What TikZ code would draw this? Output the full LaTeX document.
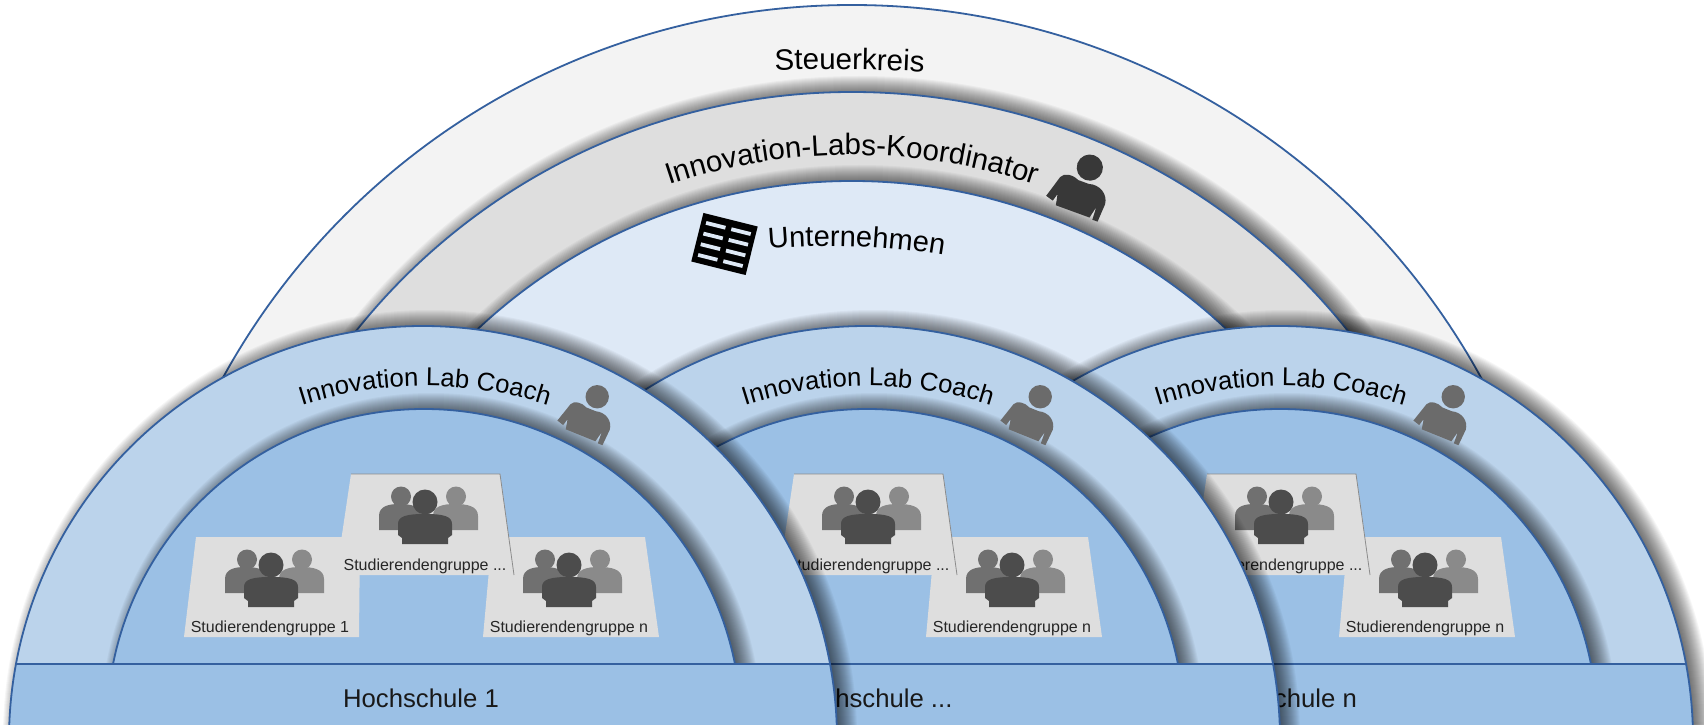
\documentclass[tikz,border=0pt]{standalone}
\usepackage{fontspec}
\setmainfont{Liberation Sans}
\usetikzlibrary{decorations.text}
\definecolor{ln}{HTML}{34609F}
\definecolor{steuer}{HTML}{F3F3F3}
\definecolor{koord}{HTML}{DEDEDE}
\definecolor{unter}{HTML}{DEE9F6}
\definecolor{ring}{HTML}{BBD3EB}
\definecolor{inner}{HTML}{9BC0E5}
\definecolor{card}{HTML}{DEDEDE}
\tikzset{
  x=1pt,y=1pt,
  edge/.style={draw=ln,line width=1.8pt},
  baseline edge/.style={draw=ln,line width=2.4pt},
  cardedge/.style={draw=black!45,line width=.8pt},
  cardtxt/.style={font=\fontsize{16}{19}\selectfont,inner sep=0pt,anchor=base,text=black!85},
  bigtxt/.style={font=\fontsize{25.7}{30}\selectfont,inner sep=0pt,anchor=base,text=black!90},
  pics/person/.style={code={
    \fill[#1] (-26,4) -- (-20,24) .. controls (-18,29) and (-10,30) .. (-4,27) -- (6,27)
      .. controls (16,30) and (25,24) .. (26,15) -- (25,-2) -- (20,-2) -- (19.5,10) -- (17,-1)
      -- (-15,-1) -- (-17,9) -- (-19,2) -- cycle;
    \fill[#1] (2,41) circle (11.7);
  }},
  pics/grp/.style={code={
    \fill[black!56] (-46,14) -- (-46,28) .. controls (-46,38) and (-36,40) .. (-26,40) .. controls (-14,40) and (-4,38) .. (-4,28) -- (-4,14) -- cycle;
    \fill[black!56] (-24,47.5) ellipse (10 and 10);
    \fill[black!46] (8,14) -- (8,28) .. controls (8,38) and (18,40) .. (30,40) .. controls (42,40) and (53,38) .. (53,28) -- (53,14) -- cycle;
    \fill[black!46] (31,47.5) ellipse (10 and 10);
    \fill[black!70] (-23,0) -- (-23,6) -- (-27,9) -- (-27,20) .. controls (-27,28) and (-18,30) .. (0,30) .. controls (18,30) and (27,28) .. (27,20) -- (27,9) -- (23,6) -- (23,0) -- cycle;
    \fill[black!70] (0,42) ellipse (12.5 and 12.5);
  }}
}
\newcommand{\softshadow}[3]{%
  \foreach \k in {-7,-6,...,13}{\fill[black,opacity=.036] ({#1+7},{#2+3}) circle ({#3+\k});}}
\newcommand{\hsdome}[1]{%  #1 centre x
  \softshadow{#1}{-16}{414}
  \fill[ring] (#1,-16) circle (414);
  \begin{scope}
    \clip (#1,-16) circle (414);
    \begin{scope}
      \clip (#1-420,60) rectangle (#1+420,724);
      \softshadow{#1+1}{-2}{317}
    \end{scope}
    \fill[inner] (#1+1,-2) circle (317);
    \draw[edge] (#1+1,-2) circle (317);
    \fill[inner] (#1-420,-20) rectangle (#1+420,60);
    \draw[baseline edge] (#1-420,60) -- (#1+420,60);
  \end{scope}
}
\begin{document}
\begin{tikzpicture}
\useasboundingbox (0,0) rectangle (1704,724);
\clip (0,0) rectangle (1704,724);
\fill[white] (0,0) rectangle (1704,724);

% back arcs
\fill[steuer] (852,2) circle (717);
\draw[edge] (852,2) circle (717);
\softshadow{852}{-2}{634}
\fill[koord] (852,-2) circle (634);
\draw[edge] (852,-2) circle (634);
\softshadow{852}{-4}{547}
\fill[unter] (852,-4) circle (547);
\draw[edge] (852,-4) circle (547);

\path[decorate,decoration={text along path,text align=center,
  text={|\fontsize{29.5}{34}\selectfont|Steuerkreis}}]
  (835,-1011.5) ++(93:1666) arc (93:86:1666);
\path[decorate,decoration={text along path,text align=center,
  text={|\fontsize{29.5}{34}\selectfont|Innovation-Labs-Koordinator}}]
  (852,-4) ++(110:573) arc (110:70:573);
\path[decorate,decoration={text along path,text align=center,
  text={|\fontsize{29}{34}\selectfont|Unternehmen}}]
  (829,-222) ++(95.5:700) arc (95.5:80:700);

\pic[rotate=-20,scale=1.12] at (1072,514) {person={black!78}};

% company icon
\begin{scope}[shift={(724.5,480)},rotate=-14]
  \fill[black] (-28,-25) rectangle (28,25);
  \foreach \yy in {-17,-6,5,16}{
    \fill[unter] (-23,\yy-1.9) rectangle (-3,\yy+1.9);
    \fill[unter] (3,\yy-1.9) rectangle (23,\yy+1.9);
  }
\end{scope}

% third dome
\hsdome{1279}
\begin{scope}
  \clip (1279,-16) circle (414);
  \node[bigtxt] (hsc) at (1279,17) {Hochschule n};
\end{scope}
\fill[card] (1279+69,187) -- (1279+222,187) -- (1279+236,87) -- (1279+60,87) -- cycle;
\pic at (1279+146,117) {grp};
\node[cardtxt] (labc3) at (1279+146,92) {Studierendengruppe n};
\fill[card] (1279-72,250) -- (1279+77,250) -- (1279+91,149) -- (1279-87,149) -- cycle;
\draw[cardedge] (1279-72,250) -- (1279+77,250) -- (1279+91,149);
\pic at (1279+2,180) {grp};
\node[cardtxt] (labc2) at (1279+2,154) {Studierendengruppe ...};
\draw[edge] (1279,-16) circle (414);
\path[decorate,decoration={text along path,text align=center,
  text={|\fontsize{25.7}{30}\selectfont|Innovation Lab Coach}}]
  (1281,-66) ++(110:404) arc (110:70:404);
\pic[rotate=-22] at (580+856,290) {person={black!58}};

% second dome
\hsdome{866}
\begin{scope}
  \clip (866,-16) circle (414);
  \node[bigtxt] (hsb) at (871,17) {Hochschule ...};
\end{scope}
\fill[card] (866+69,187) -- (866+222,187) -- (866+236,87) -- (866+60,87) -- cycle;
\pic at (866+146,117) {grp};
\node[cardtxt] (labb3) at (866+146,92) {Studierendengruppe n};
\fill[card] (866-72,250) -- (866+77,250) -- (866+91,149) -- (866-87,149) -- cycle;
\draw[cardedge] (866-72,250) -- (866+77,250) -- (866+91,149);
\pic at (866+2,180) {grp};
\node[cardtxt] (labb2) at (866+2,154) {Studierendengruppe ...};
\draw[edge] (866,-16) circle (414);
\path[decorate,decoration={text along path,text align=center,
  text={|\fontsize{25.7}{30}\selectfont|Innovation Lab Coach}}]
  (868,-66) ++(110:404) arc (110:70:404);
\pic[rotate=-22] at (580+443,290) {person={black!58}};

% first dome
\hsdome{423}
\begin{scope}
  \clip (423,-16) circle (414);
  \node[bigtxt] (hsa) at (421,17) {Hochschule 1};
\end{scope}
\fill[card] (196,187) -- (360,187) -- (359,87) -- (184,87) -- cycle;
\pic at (271,117) {grp};
\node[cardtxt] (laba1) at (270,92) {Studierendengruppe 1};
\fill[card] (423+69,187) -- (423+222,187) -- (423+236,87) -- (423+60,87) -- cycle;
\pic at (423+146,117) {grp};
\node[cardtxt] (laba3) at (423+146,92) {Studierendengruppe n};
\fill[card] (423-72,250) -- (423+77,250) -- (423+91,149) -- (423-87,149) -- cycle;
\draw[cardedge] (423-72,250) -- (423+77,250) -- (423+91,149);
\pic at (423+2,180) {grp};
\node[cardtxt] (laba2) at (423+2,154) {Studierendengruppe ...};
\draw[edge] (423,-16) circle (414);
\path[decorate,decoration={text along path,text align=center,
  text={|\fontsize{25.7}{30}\selectfont|Innovation Lab Coach}}]
  (425,-66) ++(110:404) arc (110:70:404);
\pic[rotate=-22] at (580,290) {person={black!58}};
\end{tikzpicture}
\end{document}
